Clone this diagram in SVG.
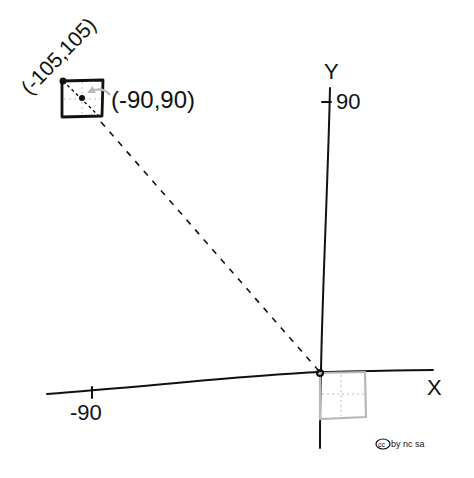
<svg xmlns="http://www.w3.org/2000/svg" width="474" height="478" viewBox="0 0 474 478">
<style>
.ink{fill:none;stroke:#111;stroke-width:2;stroke-linecap:round;stroke-linejoin:round}
.grey{fill:none;stroke:#b8b8b8;stroke-width:2.2;stroke-linecap:round}
.dots{fill:none;stroke:#bbb;stroke-width:1;stroke-dasharray:2 3}
.lbl{font-family:"Liberation Sans",Arial,sans-serif;fill:#111;font-size:22px}
.sm{font-family:"Liberation Sans",Arial,sans-serif;fill:#111;font-size:9px}
</style>
<defs>
<marker id="ah" markerWidth="8" markerHeight="8" refX="6" refY="4" orient="auto" markerUnits="userSpaceOnUse">
<path d="M0,0 L8,4 L0,8 Z" fill="#b8b8b8"/>
</marker>
</defs>
<rect width="474" height="478" fill="#fff"/>
<g id="axes">
<path class="ink" d="M47,394 C150,386 250,375 320,372 C370,371 400,370 433,370"/>
<path class="ink" d="M330,88 C328,180 322,300 321,372 C320,400 320,430 320,448"/>
<path class="ink" d="M92,387 L92,398"/>
<path class="ink" d="M322,102 L331,102"/>
<text class="lbl" x="70" y="420">-90</text>
<text class="lbl" x="336" y="109">90</text>
<text class="lbl" x="324" y="79">Y</text>
<text class="lbl" x="427" y="395">X</text>
</g>
<g id="origin-square">
<path class="grey" d="M320,373 L365,372 L366,417 L320,419 Z"/>
<path class="dots" d="M341,375 L341,416 M322,394 L364,394"/>
<circle cx="320" cy="373" r="3" fill="none" stroke="#111" stroke-width="2"/>
</g>
<g id="moved-square">
<path class="ink" style="stroke-width:2.8" d="M62,81 L103,80 L102,116 L62,117 Z"/>
<path class="dots" d="M82,82 L82,115 M64,99 L100,99"/>
<path d="M63,81 L100,117" fill="none" stroke="#111" stroke-width="1.4" stroke-dasharray="3 3"/>
<circle cx="63" cy="81" r="3.5" fill="#111"/>
<circle cx="82" cy="98" r="3" fill="#111"/>
<path d="M110,95 C104,88 97,88 89,92" fill="none" stroke="#b8b8b8" stroke-width="2" marker-end="url(#ah)"/>
<text class="lbl" x="111" y="108" style="font-size:24px">(-90,90)</text>
<text class="lbl" x="0" y="0" style="font-size:21px" transform="translate(30,96) rotate(-46)">(-105,105)</text>
</g>
<g id="connectors">
<path d="M101,122 L318,370" fill="none" stroke="#111" stroke-width="1.6" stroke-dasharray="6 7"/>
</g>
<g id="license">
<ellipse cx="383" cy="444" rx="7" ry="5" fill="none" stroke="#111" stroke-width="1.2"/>
<text class="sm" x="378" y="447" style="font-size:7px">cc</text>
<text class="sm" x="391" y="447">by nc sa</text>
</g>
</svg>
